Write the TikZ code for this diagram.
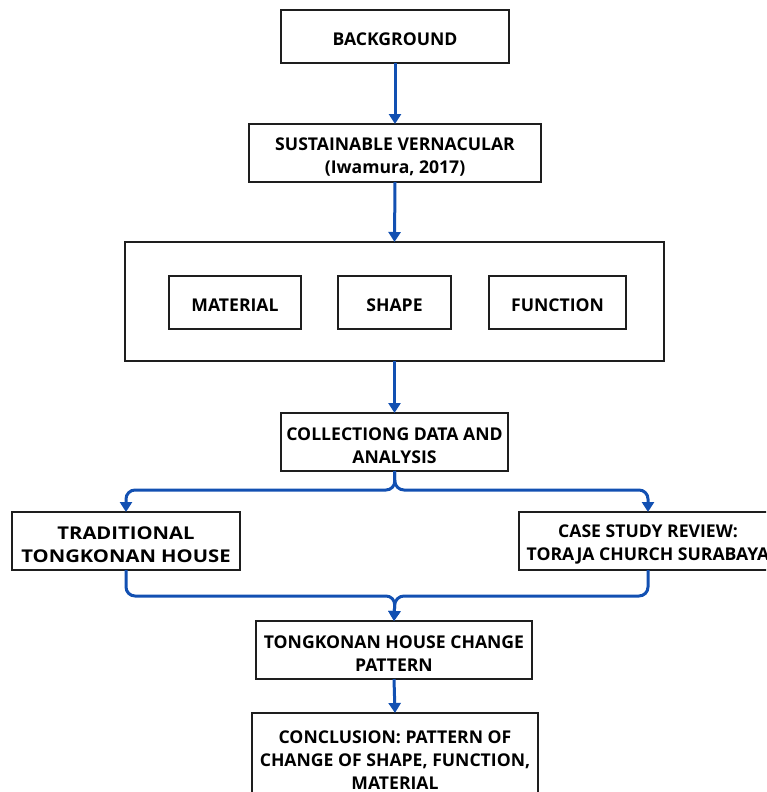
\documentclass[tikz,border=0pt]{standalone}
\usepackage{fontspec}
\setmainfont{Open Sans}
\newfontfamily\widefont[FakeStretch=1.15]{Open Sans}
\newcommand\lowertxt{\rule{0pt}{20.5pt}}
\usetikzlibrary{arrows.meta}
\definecolor{flowblue}{RGB}{18,80,178}
\definecolor{boxline}{RGB}{30,30,30}
\begin{document}
\begin{tikzpicture}[x=1pt,y=-1pt,
  box/.style={draw=boxline,line width=1.3pt,fill=white,align=center,
    font=\bfseries\fontsize{17.6}{23}\selectfont,inner sep=0pt,outer sep=0pt,
    execute at begin node={\rule{0pt}{18pt}}},
  conn/.style={draw=flowblue,line width=3pt,-{Triangle[width=12pt,length=10pt]},rounded corners=9pt}]
\useasboundingbox (0,0) rectangle (766,792);
\clip (0,0) rectangle (766,792);
\node[box,minimum width=228pt,minimum height=53pt] (bg) at (395,36.5) {BACKGROUND};
\node[box,minimum width=292pt,minimum height=58pt] (sv) at (395,153) {\lowertxt SUSTAINABLE VERNACULAR\\(Iwamura, 2017)};
\node[draw=boxline,line width=1.3pt,fill=white,inner sep=0pt,outer sep=0pt,minimum width=539pt,minimum height=119pt] (frame) at (394.5,301.5) {};
\node[box,minimum width=132pt,minimum height=53pt] (mat) at (235,302.5) {MATERIAL};
\node[box,minimum width=113pt,minimum height=53pt] (shp) at (394.5,302.5) {SHAPE};
\node[box,minimum width=137pt,minimum height=53pt] (fun) at (557.5,302.5) {FUNCTION};
\node[box,minimum width=227pt,minimum height=58pt] (cd) at (394.5,442) {\lowertxt COLLECTIONG DATA AND\\ANALYSIS};
\node[box,minimum width=228pt,minimum height=58pt,font=\widefont\bfseries\fontsize{17.6}{23}\selectfont] (trad) at (126,541) {\lowertxt TRADITIONAL\\TONGKONAN HOUSE};
\node[box,minimum width=258pt,minimum height=58pt] (case) at (648,541) {\lowertxt CASE STUDY REVIEW:\\TORAJA CHURCH SURABAYA};
\node[box,minimum width=276pt,minimum height=58pt] (tk) at (394,650) {\lowertxt TONGKONAN HOUSE CHANGE\\PATTERN};
\node[box,minimum width=286pt,minimum height=86pt] (cc) at (395,756) {\lowertxt CONCLUSION: PATTERN OF\\CHANGE OF SHAPE, FUNCTION,\\MATERIAL};
\coordinate (split) at (395,490);
\coordinate (merge) at (395,596);
\draw[conn] (bg.south) -- (sv.north);
\draw[conn] (sv.south) -- (frame.north);
\draw[conn] (frame.south) -- (cd.north);
\draw[conn] (cd.south) -- (split) -| (trad.north);
\draw[conn] (cd.south) -- (split) -| (case.north);
\draw[conn] (trad.south) |- (merge) -- (tk.north);
\draw[conn] (case.south) |- (merge) -- (tk.north);
\draw[conn] (tk.south) -- (cc.north);
\end{tikzpicture}
\end{document}
